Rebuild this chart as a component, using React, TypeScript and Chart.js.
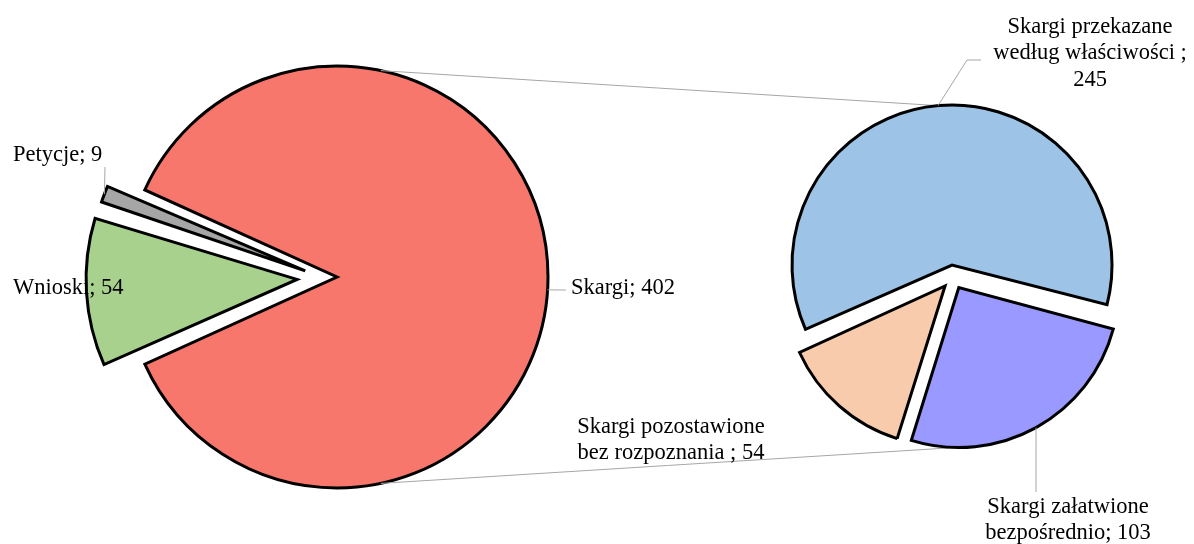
import React, { useEffect, useRef } from "react";
import { Chart, registerables } from "chart.js";

Chart.register(...registerables);

// ---------- data ----------
const mainCategories = ["Skargi", "Wnioski", "Petycje"];
const mainValues = [402, 54, 9];
const mainColors = ["#F8776C", "#A9D18E", "#A6A6A6"];

const subCategories = [
  "Skargi przekazane według właściwości ",
  "Skargi załatwione bezpośrednio",
  "Skargi pozostawione bez rozpoznania ",
];
const subValues = [245, 103, 54];
const subColors = ["#9DC3E6", "#9999FF", "#F8CBAD"];

// ---------- layout ----------
const W = 1194;
const H = 544;
const FONT_SIZE = 22.5;
const FONT = `${FONT_SIZE}px "Liberation Serif", "Times New Roman", serif`;
const LINE_H = 26.5;

const mainCenter = { x: 337, y: 277 };
const mainRadius = 211;
const mainExplode = [0, 40, 34]; // px displacement along slice bisector
const mainTweak: [number, number, number][] = [[0, 0, 0], [0, 0, 0], [0, 6, 4]]; // extra dx, dy, dr
const subCenter = { x: 953, y: 277 };
const subRadius = 160;
const subExplode = [12, 12, 12];
const subTweak: [number, number, number][] = [[0, 0, 0], [0, 0, 0], [0, 0, 0]];

type LabelSpec = {
  index: number;
  leader: boolean;
  anchorDeg?: number;
  path: [number, number][];
  x: number;
  y: number;
  align: CanvasTextAlign;
  wrap: number;
  wordSpacing: number;
};

const mainLabelLayout: LabelSpec[] = [
  { index: 0, leader: true, anchorDeg: 3.5, path: [[566, 290]], x: 571, y: 288, align: "left", wrap: 400, wordSpacing: 0 },
  { index: 1, leader: false, path: [], x: 13, y: 288, align: "left", wrap: 400, wordSpacing: 0 },
  { index: 2, leader: true, path: [[105, 167]], x: 13, y: 155, align: "left", wrap: 400, wordSpacing: 0 },
];

const subLabelLayout: LabelSpec[] = [
  { index: 0, leader: true, anchorDeg: -95, path: [[967, 60], [981, 60]], x: 1090, y: 27, align: "center", wrap: 215, wordSpacing: 0 },
  { index: 1, leader: true, path: [[1036, 492]], x: 1068, y: 507, align: "center", wrap: 215, wordSpacing: 0 },
  { index: 2, leader: false, path: [], x: 671, y: 427, align: "center", wrap: 200, wordSpacing: 0 },
];

const seriesLines = {
  leftTopDeg: -78,
  leftBottomDeg: 78,
  rightTop: { index: 0, deg: -95 },
  rightBottom: { index: 1, deg: 91 },
};

// ---------- helpers ----------
function wrapText(ctx: CanvasRenderingContext2D, text: string, maxW: number): string[] {
  const words = text.split(/\s+/).filter(Boolean);
  const lines: string[] = [];
  let cur = "";
  for (const w of words) {
    const t = cur ? cur + " " + w : w;
    if (cur && ctx.measureText(t).width > maxW) {
      lines.push(cur);
      cur = w;
    } else cur = t;
  }
  if (cur) lines.push(cur);
  return lines;
}

function arcPoint(arc: any, tweak: [number, number, number], deg?: number) {
  const D = (arc.options.offset || 0) / 4;
  const mid = (arc.startAngle + arc.endAngle) / 2;
  const th = deg === undefined ? mid : (deg * Math.PI) / 180;
  const r = arc.outerRadius + tweak[2];
  return {
    x: arc.x + tweak[0] + D * Math.cos(mid) + r * Math.cos(th),
    y: arc.y + tweak[1] + D * Math.sin(mid) + r * Math.sin(th),
  };
}

// Chart.js grows the radius of offset arcs; undo it so exploded slices keep their size
function makeExplodeFix(tweaks: [number, number, number][]) {
  return {
    id: "explodeFix",
    beforeDatasetsDraw(chart: any) {
      chart.getDatasetMeta(0).data.forEach((arc: any, i: number) => {
        const off = (arc.options.offset || 0) / 4;
        const fix = 1 - Math.sin(Math.min(Math.PI, arc.circumference || 0));
        const t = tweaks[i] || [0, 0, 0];
        arc.$saved = { r: arc.outerRadius, x: arc.x, y: arc.y };
        arc.outerRadius = arc.outerRadius - off * fix + t[2];
        arc.x = arc.x + t[0];
        arc.y = arc.y + t[1];
      });
    },
    afterDatasetsDraw(chart: any) {
      chart.getDatasetMeta(0).data.forEach((arc: any) => {
        if (arc.$saved) {
          arc.outerRadius = arc.$saved.r;
          arc.x = arc.$saved.x;
          arc.y = arc.$saved.y;
        }
      });
    },
  };
}

function labelsPlugin(categories: string[], values: number[], layout: LabelSpec[], tweaks: [number, number, number][]) {
  return {
    id: "pieLabels",
    afterDraw(chart: any) {
      const ctx: any = chart.ctx;
      const arcs = chart.getDatasetMeta(0).data;
      ctx.save();
      ctx.strokeStyle = "#A6A6A6";
      ctx.lineWidth = 1;
      layout.forEach((l) => {
        if (!l.leader) return;
        const p = arcPoint(arcs[l.index], tweaks[l.index], l.anchorDeg);
        ctx.beginPath();
        ctx.moveTo(p.x, p.y);
        l.path.forEach(([x, y]) => ctx.lineTo(x, y));
        ctx.stroke();
      });
      ctx.font = FONT;
      ctx.fillStyle = "#000";
      ctx.textBaseline = "middle";
      layout.forEach((l) => {
        if ("wordSpacing" in ctx) ctx.wordSpacing = `${l.wordSpacing}px`;
        const text = `${categories[l.index]}; ${values[l.index]}`;
        const lines = wrapText(ctx, text, l.wrap);
        ctx.textAlign = l.align;
        lines.forEach((ln, i) => ctx.fillText(ln, l.x, l.y + i * LINE_H));
      });
      ctx.restore();
    },
  };
}

function makePieConfig(
  values: number[],
  colors: string[],
  explode: number[],
  radius: number,
  rotation: number,
  padding: any,
  plugins: any[]
): any {
  return {
    type: "pie",
    data: {
      labels: [],
      datasets: [
        {
          data: values,
          backgroundColor: colors,
          borderColor: "#000",
          borderWidth: 3,
          borderJoinStyle: "miter",
          offset: explode.map((d) => d * 4),
          hoverOffset: 0,
          radius,
          clip: false,
        },
      ],
    },
    options: {
      responsive: false,
      devicePixelRatio: 1,
      animation: false,
      rotation,
      layout: { padding },
      plugins: { legend: { display: false }, tooltip: { enabled: false } },
      events: [],
    },
    plugins,
  };
}

export default function App() {
  const leftRef = useRef<HTMLCanvasElement>(null);
  const rightRef = useRef<HTMLCanvasElement>(null);

  useEffect(() => {
    if (!leftRef.current || !rightRef.current) return;
    const total = mainValues.reduce((a, b) => a + b, 0);
    const halfGapDeg = (360 - (mainValues[0] / total) * 360) / 2;
    const leftRotation = -90 + halfGapDeg; // big slice starts just above the left gap
    const rightRotation = 90 + 180 - halfGapDeg; // second pie starts just below the left

    const left = new Chart(
      leftRef.current,
      makePieConfig(
        mainValues,
        mainColors,
        mainExplode,
        mainRadius,
        leftRotation,
        { left: 0, right: W - 2 * mainCenter.x, top: 2 * mainCenter.y - H, bottom: 0 },
        [makeExplodeFix(mainTweak), labelsPlugin(mainCategories, mainValues, mainLabelLayout, mainTweak)]
      )
    );

    const seriesPlugin = {
      id: "seriesLines",
      beforeDatasetsDraw(chart: any) {
        const ctx: CanvasRenderingContext2D = chart.ctx;
        const la = left.getDatasetMeta(0).data[0] as any;
        const ra = chart.getDatasetMeta(0).data;
        const lt = arcPoint(la, mainTweak[0], seriesLines.leftTopDeg);
        const lb = arcPoint(la, mainTweak[0], seriesLines.leftBottomDeg);
        const rt = arcPoint(ra[seriesLines.rightTop.index], subTweak[seriesLines.rightTop.index], seriesLines.rightTop.deg);
        const rb = arcPoint(ra[seriesLines.rightBottom.index], subTweak[seriesLines.rightBottom.index], seriesLines.rightBottom.deg);
        ctx.save();
        ctx.strokeStyle = "#A6A6A6";
        ctx.lineWidth = 1;
        ctx.beginPath();
        ctx.moveTo(lt.x, lt.y);
        ctx.lineTo(rt.x, rt.y);
        ctx.moveTo(lb.x, lb.y);
        ctx.lineTo(rb.x, rb.y);
        ctx.stroke();
        ctx.restore();
      },
    };

    const right = new Chart(
      rightRef.current,
      makePieConfig(
        subValues,
        subColors,
        subExplode,
        subRadius,
        rightRotation,
        { left: 2 * subCenter.x - W, right: 0, top: 2 * subCenter.y - H, bottom: 0 },
        [seriesPlugin, makeExplodeFix(subTweak), labelsPlugin(subCategories, subValues, subLabelLayout, subTweak)]
      )
    );

    return () => {
      right.destroy();
      left.destroy();
    };
  }, []);

  return (
    <div style={{ position: "fixed", left: 0, top: 0, width: W, height: H, background: "#fff" }}>
      <canvas ref={leftRef} width={W} height={H} style={{ position: "absolute", left: 0, top: 0 }} />
      <canvas ref={rightRef} width={W} height={H} style={{ position: "absolute", left: 0, top: 0 }} />
    </div>
  );
}
